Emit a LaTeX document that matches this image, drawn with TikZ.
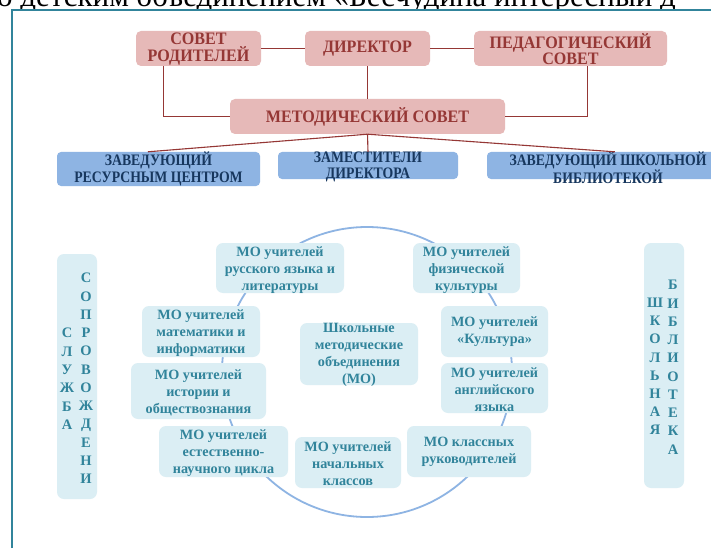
\documentclass[tikz,border=0pt]{standalone}
\usepackage{fontspec}
\setmainfont{Liberation Serif}
\newfontfamily\cnd{Liberation Serif}[FakeStretch=0.92]
\newfontfamily\cndb{Liberation Serif}[FakeStretch=0.86]
\usetikzlibrary{calc}
\definecolor{pinkf}{HTML}{E6B9B8}
\definecolor{pinkt}{HTML}{953735}
\definecolor{bluef}{HTML}{8EB4E3}
\definecolor{bluet}{HTML}{17375E}
\definecolor{lightf}{HTML}{DBEEF4}
\definecolor{lightt}{HTML}{31849B}
\definecolor{framec}{HTML}{31849B}
\definecolor{circc}{HTML}{8EB4E3}
\tikzset{
  pinkbox/.style={fill=pinkf, rounded corners=5pt, inner sep=0pt},
  bluebox/.style={fill=bluef, rounded corners=4pt, inner sep=0pt},
  lightbox/.style={fill=lightf, rounded corners=7pt, inner sep=0pt},
  tpink/.style={font=\cnd\bfseries\fontsize{17.5}{16.7}\selectfont, text=pinkt, align=center, inner sep=0pt},
  tblue/.style={font=\cndb\bfseries\fontsize{16}{16.4}\selectfont, text=bluet, align=center, inner sep=0pt},
  tlight/.style={font=\bfseries\fontsize{14.2}{17}\selectfont, text=lightt, align=center, inner sep=0pt},
  vlet/.style={font=\bfseries\fontsize{14.5}{17}\selectfont, text=lightt, inner sep=0pt, anchor=base},
  conn/.style={draw=pinkt, line width=1.1pt},
  frameline/.style={draw=framec, line width=2pt},
  ring/.style={draw=circc, line width=1.8pt}
}
\begin{document}
\begin{tikzpicture}[x=1pt,y=-1pt]
\useasboundingbox (0,0) rectangle (711,548);
% clipped heading text at the top
\node[anchor=base west, inner sep=0pt, font=\fontsize{31}{36}\selectfont] (head) at (-3,6.5) {о детским объединением «Бесчудина интересный д};
% white panel with frame
\fill[white] (12,10) rectangle (720,560);
\draw[frameline] (12,548) -- (12,10) -- (711,10);
% ring
\node[ring, circle, minimum size=290pt, inner sep=0pt] (ring) at (367,372) {};
% top pink boxes
\node[pinkbox, minimum width=125pt, minimum height=35pt] (sov) at (198.5,48.5) {};
\node[tpink] (sovt) at (198.5,49) {СОВЕТ\\РОДИТЕЛЕЙ};
\node[pinkbox, minimum width=125pt, minimum height=35pt] (dir) at (367.5,48.5) {};
\node[tpink] (dirt) at (367.5,48.5) {ДИРЕКТОР};
\node[pinkbox, minimum width=193pt, minimum height=35pt] (ped) at (570.5,48.5) {};
\node[tpink] (pedt) at (570.5,49) {ПЕДАГОГИЧЕСКИЙ\\СОВЕТ};
\node[pinkbox, minimum width=275pt, minimum height=35pt] (met) at (367.5,116.5) {};
\node[tpink] (mett) at (367.5,117) {МЕТОДИЧЕСКИЙ СОВЕТ};
% blue boxes
\node[bluebox, minimum width=203pt, minimum height=34pt] (zav1) at (158.5,169) {};
\node[tblue] (zav1t) at (158.5,169) {ЗАВЕДУЮЩИЙ\\РЕСУРСНЫМ ЦЕНТРОМ};
\node[bluebox, minimum width=180pt, minimum height=27pt] (zam) at (368,165.5) {};
\node[tblue] (zamt) at (368,167) {ЗАМЕСТИТЕЛИ\\ДИРЕКТОРА};
\node[bluebox, minimum width=242pt, minimum height=27pt] (zav3) at (608,165.5) {};
\node[tblue] (zav3t) at (608,167.5) {ЗАВЕДУЮЩИЙ ШКОЛЬНОЙ\\БИБЛИОТЕКОЙ};
% connectors
\draw[conn] (sov.east) -- (dir.west);
\draw[conn] (dir.east) -- (ped.west);
\draw[conn] (dir.south) -- (met.north);
\draw[conn] ([xshift=28pt]sov.south west) |- (met.west);
\draw[conn] ([xshift=114pt]ped.south west) |- (met.east);
\draw[conn] (met.south) -- ([xshift=91pt]zav1.north west);
\draw[conn] (met.south) -- (zam.north);
\draw[conn] (met.south) -- ([xshift=128pt]zav3.north west);
% light boxes
\node[lightbox, minimum width=128pt, minimum height=50pt] (rus) at (280,268) {};
\node[tlight] (rust) at (280,270) {МО учителей\\русского языка и\\литературы};
\node[lightbox, minimum width=118pt, minimum height=51pt] (mat) at (201,331.5) {};
\node[tlight] (matt) at (201,333) {МО учителей\\математики и\\информатики};
\node[lightbox, minimum width=135pt, minimum height=56pt] (his) at (198.5,391) {};
\node[tlight] (hist) at (198.5,393) {МО учителей\\истории и\\обществознания};
\node[lightbox, minimum width=129pt, minimum height=51pt] (nat) at (223.5,451.5) {};
\node[tlight] (natt) at (223.5,453) {МО учителей\\естественно-\\научного цикла};
\node[lightbox, minimum width=107pt, minimum height=50pt] (phy) at (466.5,268) {};
\node[tlight] (phyt) at (466.5,270) {МО учителей\\физической\\культуры};
\node[lightbox, minimum width=107pt, minimum height=51pt] (cul) at (494.5,331.5) {};
\node[tlight] (cult) at (494.5,332) {МО учителей\\«Культура»};
\node[lightbox, minimum width=107pt, minimum height=50pt] (eng) at (494.5,388) {};
\node[tlight] (engt) at (494.5,390) {МО учителей\\английского\\языка};
\node[lightbox, minimum width=124pt, minimum height=51pt] (cls) at (469,451.5) {};
\node[tlight] (clst) at (469,452) {МО классных\\руководителей};
\node[lightbox, minimum width=106pt, minimum height=51pt] (pri) at (348,462.5) {};
\node[tlight] (prit) at (348,464) {МО учителей\\начальных\\классов};
\node[lightbox, minimum width=118pt, minimum height=62pt] (cen) at (359,354) {};
\node[tlight] (cent) at (359,355) {Школьные\\методические\\объединения\\(МО)};
% vertical boxes
\node[lightbox, minimum width=40pt, minimum height=245pt] (slu) at (77,376.5) {};
\node[lightbox, minimum width=40pt, minimum height=245pt] (bib) at (664,365.5) {};
\foreach \l [count=\i] in {С,Л,У,Ж,Б,А}
  \node[vlet] (sa\i) at (67,{333+18.3*(\i-1)+4.8}) {\l};
\foreach \l [count=\i] in {С,О,П,Р,О,В,О,Ж,Д,Е,Н,И}
  \node[vlet] (sb\i) at (86,{278+18.25*(\i-1)+4.8}) {\l};
\foreach \l [count=\i] in {Ш,К,О,Л,Ь,Н,А,Я}
  \node[vlet] (ba\i) at (655,{302.7+18.2*(\i-1)+4.8}) {\l};
\foreach \l [count=\i] in {Б,И,Б,Л,И,О,Т,Е,К,А}
  \node[vlet] (bb\i) at (673,{285+18.25*(\i-1)+4.8}) {\l};
\end{tikzpicture}
\end{document}
